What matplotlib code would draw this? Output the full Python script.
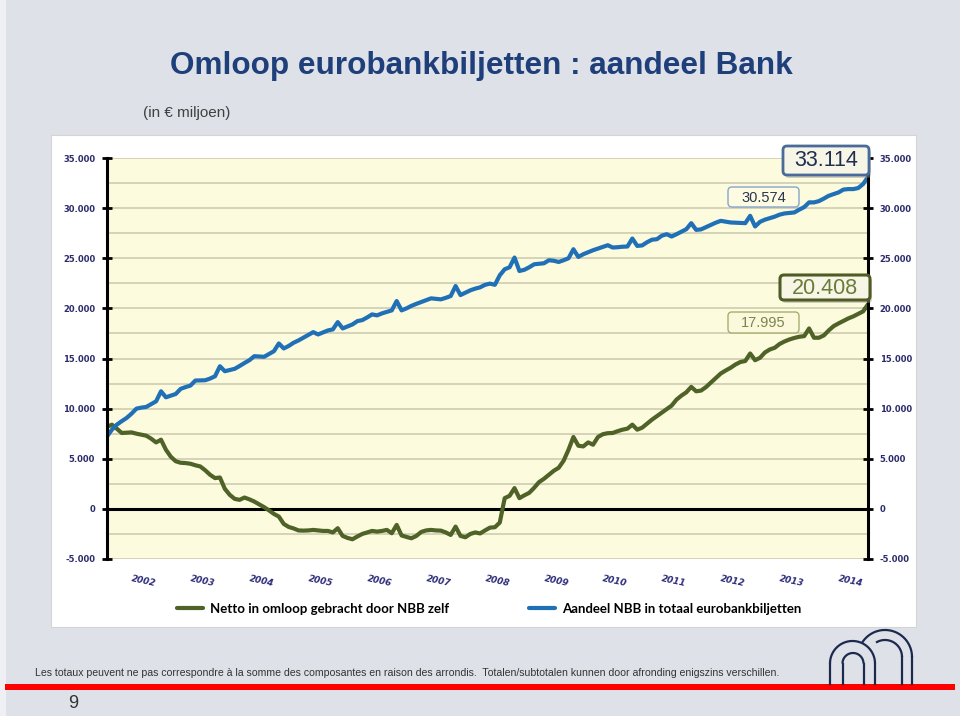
import matplotlib
matplotlib.use('Agg')
import matplotlib.pyplot as plt
from matplotlib.patches import Rectangle, FancyBboxPatch
import numpy as np

# ---------------- data (in EUR million, monthly Jan 2002 - Dec 2014) ----------------
years = [str(y) for y in range(2002, 2015)]

netto_nbb = [
    8170, 8400, 8000, 7570, 7600, 7630, 7500, 7400, 7300, 7000, 6630, 6900,
    5900, 5200, 4750, 4600, 4570, 4500, 4350, 4230, 3850, 3400, 3070, 3130,
    2000, 1400, 1000, 900, 1130, 950, 730, 450, 170, -150, -500, -770,
    -1500, -1800, -1950, -2150, -2170, -2150, -2100, -2150, -2200, -2200, -2350, -1930,
    -2700, -2900, -3030, -2750, -2500, -2350, -2200, -2270, -2200, -2100, -2430, -1600,
    -2650, -2800, -2930, -2700, -2300, -2150, -2100, -2150, -2170, -2350, -2600, -1770,
    -2700, -2830, -2500, -2350, -2450, -2150, -1870, -1830, -1370, 1070, 1300, 2070,
    1070, 1350, 1600, 2100, 2670, 3000, 3400, 3800, 4100, 4800, 5900, 7170,
    6300, 6230, 6630, 6400, 7170, 7450, 7550, 7570, 7750, 7900, 8000, 8400,
    7900, 8100, 8500, 8900, 9250, 9600, 9950, 10300, 10900, 11300, 11630, 12170,
    11730, 11800, 12150, 12600, 13050, 13500, 13800, 14070, 14400, 14650, 14750, 15500,
    14830, 15070, 15600, 15900, 16070, 16450, 16700, 16900, 17050, 17170, 17230, 17995,
    17070, 17070, 17300, 17800, 18230, 18500, 18750, 19000, 19200, 19450, 19700, 20408,
]

aandeel_nbb = [
    7230, 7900, 8400, 8750, 9070, 9500, 10000, 10100, 10170, 10450, 10730, 11730,
    11130, 11300, 11460, 11970, 12150, 12300, 12800, 12820, 12830, 13000, 13230, 14230,
    13730, 13850, 13970, 14250, 14550, 14830, 15230, 15200, 15170, 15450, 15730, 16500,
    16000, 16250, 16570, 16800, 17070, 17350, 17630, 17400, 17600, 17800, 17900, 18630,
    18000, 18200, 18400, 18730, 18830, 19100, 19400, 19300, 19500, 19650, 19800, 20730,
    19800, 20000, 20250, 20450, 20630, 20800, 21000, 20950, 20900, 21050, 21230, 22230,
    21330, 21570, 21800, 21970, 22100, 22350, 22470, 22350, 23300, 23900, 24100, 25070,
    23730, 23850, 24100, 24400, 24450, 24500, 24800, 24750, 24630, 24800, 25000, 25900,
    25130, 25400, 25600, 25800, 25970, 26150, 26300, 26070, 26100, 26150, 26170, 26970,
    26230, 26280, 26600, 26850, 26900, 27250, 27400, 27170, 27400, 27650, 27900, 28500,
    27830, 27880, 28100, 28330, 28550, 28730, 28650, 28570, 28550, 28520, 28500, 29230,
    28170, 28630, 28850, 29000, 29150, 29350, 29470, 29520, 29570, 29850, 30100, 30574,
    30570, 30700, 30950, 31230, 31400, 31570, 31850, 31900, 31900, 32000, 32400, 33114,
]

series_labels = ['Netto in omloop gebracht door NBB zelf',
                 'Aandeel NBB in totaal eurobankbiljetten']

yticks = [-5000, 0, 5000, 10000, 15000, 20000, 25000, 30000, 35000]
ytick_labels = ['-5.000', '0', '5.000', '10.000', '15.000', '20.000',
                '25.000', '30.000', '35.000']


def fmt(v):
    return f"{v:,.0f}".replace(',', '.')


# ---------------- figure ----------------
W, H = 960, 716
fig = plt.figure(figsize=(W / 100, H / 100), dpi=100)
fig.patch.set_facecolor('#DEE2E8')


def fx(px):
    return px / W


def fy(py):
    return 1 - py / H


# background decoration layer (pixel coordinates)
bg = fig.add_axes([0, 0, 1, 1], zorder=0)
bg.set_xlim(0, W)
bg.set_ylim(H, 0)
bg.axis('off')
bg.add_patch(Rectangle((0, 0), 6, H, facecolor='#EEF0F3', edgecolor='none'))
bg.add_patch(Rectangle((51, 135), 865, 492, facecolor='white',
                       edgecolor='#D4D4D4', lw=0.8))
bg.add_patch(Rectangle((5, 684), 950, 6, facecolor='#FF0000', edgecolor='none'))

# NBB logo (arches)
logo_c = '#1C2A4E'


def arch(cx, cy, r, t0, t1, legs=(True, True), bottom=684):
    t = np.linspace(np.radians(t0), np.radians(t1), 60)
    bg.plot(cx + r * np.cos(t), cy - r * np.sin(t), color=logo_c, lw=1.6,
            solid_capstyle='butt')
    if legs[0]:
        bg.plot([cx + r, cx + r], [cy, bottom], color=logo_c, lw=1.6)
    if legs[1]:
        bg.plot([cx - r, cx - r], [cy, bottom], color=logo_c, lw=1.6)


arch(885, 657, 27, 0, 150, legs=(True, False))
arch(885, 657, 17, 0, 122, legs=(True, False))
arch(852.5, 663.5, 22.5, 0, 180)
arch(853, 663.5, 10.5, 0, 180)

# ---------------- titles / footer ----------------
fig.text(fx(481), fy(66), 'Omloop eurobankbiljetten : aandeel Bank',
         ha='center', va='center', fontsize=22.7, fontweight='bold',
         color='#1F3F7A', family='Liberation Sans')
fig.text(fx(143), fy(113), '(in € miljoen)', ha='left', va='center',
         fontsize=11, color='#404040', family='Liberation Sans')
fig.text(fx(35), fy(673),
         'Les totaux peuvent ne pas correspondre à la somme des composantes en raison des arrondis.  '
         'Totalen/subtotalen kunnen door afronding enigszins verschillen.',
         ha='left', va='center', fontsize=7.55, color='#333333',
         family='Liberation Sans')
fig.text(fx(73), fy(703), '9', ha='center', va='center', fontsize=13,
         color='#333333', family='Liberation Sans')

# ---------------- main chart ----------------
ax = fig.add_axes([fx(107), fy(559), fx(868) - fx(107), fy(158) - fy(559)],
                  zorder=1)
ax.set_facecolor('#FDFBDD')
months = np.arange(len(aandeel_nbb))

l1, = ax.plot(months, netto_nbb, color='#4F6228', lw=3.0,
              solid_joinstyle='round', solid_capstyle='round', zorder=4,
              label=series_labels[0])
l2, = ax.plot(months, aandeel_nbb, color='#1F70B6', lw=3.0,
              solid_joinstyle='round', solid_capstyle='round', zorder=4,
              label=series_labels[1])

ax.set_xlim(0, len(months) - 1)
ax.set_ylim(-5000, 35000)
ax.set_yticks(yticks, ytick_labels, fontweight='bold')
ax.set_yticks(np.arange(-5000, 35001, 2500), minor=True)
ax.grid(which='both', axis='y', color='#CBC9AE', lw=1.1, zorder=1)
ax.set_axisbelow(True)
ax.axhline(0, color='black', lw=2.2, zorder=3)

for s in ('top', 'bottom'):
    ax.spines[s].set_visible(False)
for s in ('left', 'right'):
    ax.spines[s].set_color('black')
    ax.spines[s].set_linewidth(2.2)
    ax.spines[s].set_zorder(5)

ax.tick_params(axis='y', which='major', direction='inout', length=7, width=2,
               pad=5, labelsize=6, labelcolor='#2B2B6B', left=True, right=True,
               labelleft=True, labelright=True)
ax.tick_params(axis='y', which='minor', length=0, left=False, right=False)

ax.set_xticks(np.arange(len(years)) * 12 + 7.5, years, rotation=-12,
              fontstyle='italic', fontweight='bold', fontsize=6.5,
              color='#2E2D7A')
ax.tick_params(axis='x', length=0, pad=11)

ax.legend(handles=[l1, l2], loc='center', bbox_to_anchor=(fx(489), fy(609)),
          bbox_transform=fig.transFigure, ncol=2, frameon=False,
          prop={'family': 'Lato', 'weight': 'bold', 'size': 9.5},
          handlelength=2.0, handletextpad=0.55, columnspacing=6.0)

# ---------------- call-out boxes (pixel layer on top) ----------------
fg = fig.add_axes([0, 0, 1, 1], zorder=3)
fg.set_xlim(0, W)
fg.set_ylim(H, 0)
fg.axis('off')
fg.patch.set_alpha(0)

callouts = [
    # text, box (x0, y0, x1, y1), fontsize, text colour, edge colour, lw, face, shadow
    (fmt(aandeel_nbb[-1]), (783, 146, 869, 175), 15.5, '#1F2D50', '#4A6B9A', 2.0, '#F6F5E6', True),
    (fmt(aandeel_nbb[-13]), (728, 187, 799, 207), 10.5, '#2A3550', '#86A4CC', 1.0, '#FDFBE2', False),
    (fmt(netto_nbb[-1]), (780, 275, 870, 300), 15.5, '#6B7B38', '#4F5A24', 2.2, '#F6F5E6', True),
    (fmt(netto_nbb[-13]), (728, 312, 799, 333), 10.5, '#7A8550', '#A8AE70', 1.0, '#FBF8DC', False),
]
for txt, (x0, y0, x1, y1), fs, tc, ec, lw, fc, shadow in callouts:
    if shadow:
        fg.add_patch(FancyBboxPatch((x0 + 2, y0 + 3), x1 - x0, y1 - y0,
                                    boxstyle='round,pad=0,rounding_size=4',
                                    facecolor='#9A9A8A', edgecolor='none',
                                    alpha=0.45))
    fg.add_patch(FancyBboxPatch((x0, y0), x1 - x0, y1 - y0,
                                boxstyle='round,pad=0,rounding_size=4',
                                facecolor=fc, edgecolor=ec, lw=lw))
    fg.text((x0 + x1) / 2, (y0 + y1) / 2 + 0.5, txt, ha='center', va='center',
            fontsize=fs, color=tc, family='Liberation Sans')

fig.savefig('out.png', dpi=100, facecolor=fig.get_facecolor())
